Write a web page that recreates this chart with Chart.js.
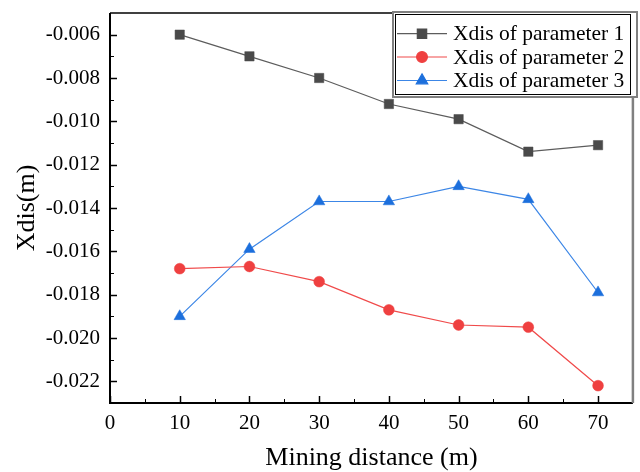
<!DOCTYPE html>
<html>
<head>
<meta charset="utf-8">
<script src="https://cdn.jsdelivr.net/npm/chart.js@4.4.4/dist/chart.umd.min.js"></script>
<style>
  html, body { margin: 0; padding: 0; background: #fff; }
  #wrap { width: 640px; height: 472px; }
</style>
</head>
<body>
<div id="wrap"><canvas id="chart" width="640" height="472"></canvas></div>
<script>
// ─── Data ────────────────────────────────────────────────────────────────────
const MINING_DISTANCE = [10, 20, 30, 40, 50, 60, 70];
const XDIS_P1 = [-0.0060, -0.0070, -0.0080, -0.0092, -0.0099, -0.0114, -0.0111];
const XDIS_P2 = [-0.0168, -0.0167, -0.0174, -0.0187, -0.0194, -0.0195, -0.0222];
const XDIS_P3 = [-0.0190, -0.0159, -0.0137, -0.0137, -0.0130, -0.0136, -0.0179];

const SERIES_LABELS = ['Xdis of parameter 1', 'Xdis of parameter 2', 'Xdis of parameter 3'];
const X_TICKS = [0, 10, 20, 30, 40, 50, 60, 70];
const Y_TICKS = [-0.022, -0.020, -0.018, -0.016, -0.014, -0.012, -0.010, -0.008, -0.006];

const SERIF = "'Liberation Serif', 'Times New Roman', serif";

const toPoints = ys => MINING_DISTANCE.map((x, i) => ({ x, y: ys[i] }));

// ─── Frame + inward ticks ───────────────────────────────────────────────────
const framePlugin = {
    id: 'frame',
    afterDatasetsDraw(chart) {
        const { ctx, chartArea: { left, right, top, bottom } } = chart;
        const xs = chart.scales.x, ys = chart.scales.y;
        ctx.save();
        ctx.strokeStyle = '#000';
        ctx.lineWidth = 1.5;
        // major ticks
        X_TICKS.forEach(v => {
            const px = Math.round(xs.getPixelForValue(v)) + 0.5;
            ctx.beginPath(); ctx.moveTo(px, bottom); ctx.lineTo(px, bottom - 7); ctx.stroke();
        });
        Y_TICKS.forEach(v => {
            const py = Math.round(ys.getPixelForValue(v)) + 0.5;
            ctx.beginPath(); ctx.moveTo(left, py); ctx.lineTo(left + 7, py); ctx.stroke();
        });
        // minor ticks halfway between majors
        ctx.lineWidth = 1;
        for (let i = 0; i < X_TICKS.length; i++) {
            const v = X_TICKS[i] + 5;
            if (v >= xs.max) break;
            const px = Math.round(xs.getPixelForValue(v)) + 0.5;
            ctx.beginPath(); ctx.moveTo(px, bottom); ctx.lineTo(px, bottom - 4); ctx.stroke();
        }
        for (let i = 0; i < Y_TICKS.length; i++) {
            const v = Y_TICKS[i] + 0.001;
            if (v >= ys.max - 1e-9) break;
            const py = Math.round(ys.getPixelForValue(v)) + 0.5;
            ctx.beginPath(); ctx.moveTo(left, py); ctx.lineTo(left + 4, py); ctx.stroke();
        }
        // axis lines
        ctx.lineWidth = 2;
        ctx.beginPath();
        ctx.moveTo(left, top); ctx.lineTo(left, bottom); ctx.lineTo(right, bottom);
        ctx.stroke();
        ctx.lineWidth = 1.5;
        ctx.beginPath(); ctx.moveTo(left, top); ctx.lineTo(right, top); ctx.stroke();
        ctx.strokeStyle = '#808080';
        ctx.lineWidth = 2.5;
        ctx.beginPath(); ctx.moveTo(right, top); ctx.lineTo(right, bottom); ctx.stroke();
        ctx.restore();
    }
};

// ─── Boxed legend with line + marker samples ────────────────────────────────
const legendPlugin = {
    id: 'boxLegend',
    afterDraw(chart) {
        const { ctx } = chart;
        ctx.save();
        ctx.fillStyle = '#fff';
        ctx.fillRect(393, 12, 244, 85);
        ctx.strokeStyle = '#808080';
        ctx.lineWidth = 2;
        ctx.strokeRect(393, 12, 244, 85);
        ctx.strokeStyle = '#000';
        ctx.lineWidth = 1;
        ctx.strokeRect(395.5, 14.5, 235, 80);

        const rows = [33.7, 57, 80.5];
        chart.data.datasets.forEach((ds, i) => {
            const y = rows[i];
            ctx.strokeStyle = ds.borderColor;
            ctx.lineWidth = 1.2;
            ctx.beginPath(); ctx.moveTo(397, y); ctx.lineTo(447, y); ctx.stroke();
            ctx.fillStyle = ds.pointBackgroundColor;
            ctx.strokeStyle = ds.pointBorderColor;
            Chart.helpers.drawPoint(ctx, {
                pointStyle: ds.pointStyle, radius: ds.pointRadius, rotation: 0, borderWidth: ds.pointBorderWidth
            }, 422, y);
            ctx.fillStyle = '#000';
            ctx.font = `21.5px ${SERIF}`;
            ctx.textAlign = 'left';
            ctx.textBaseline = 'middle';
            ctx.fillText(ds.label, 453, y + 1);
        });
        ctx.restore();
    }
};

// ─── Chart ──────────────────────────────────────────────────────────────────
const series = (label, data, line, marker, style, r) => ({
    label,
    data: toPoints(data),
    borderColor: line,
    borderWidth: 1.2,
    pointStyle: style,
    pointRadius: r,
    pointHoverRadius: r,
    pointBackgroundColor: marker,
    pointBorderColor: marker,
    pointBorderWidth: 0.5,
    tension: 0,
    fill: false,
    clip: false,
});

new Chart(document.getElementById('chart'), {
    type: 'line',
    data: {
        datasets: [
            series(SERIES_LABELS[0], XDIS_P1, '#5c5c5c', '#4a4a4a', 'rect', 6.6),
            series(SERIES_LABELS[1], XDIS_P2, '#f04a4a', '#ef4040', 'circle', 5.4),
            series(SERIES_LABELS[2], XDIS_P3, '#3c86e6', '#1c6fdc', 'triangle', 6.6),
        ]
    },
    options: {
        responsive: false,
        animation: false,
        devicePixelRatio: 1,
        layout: { padding: { top: 13, right: 4, left: 0, bottom: 0 } },
        plugins: { legend: { display: false }, tooltip: { enabled: false } },
        scales: {
            x: {
                type: 'linear',
                min: 0,
                max: 75,
                grid: { display: false, drawTicks: false },
                border: { display: false },
                afterBuildTicks: s => { s.ticks = X_TICKS.map(v => ({ value: v })); },
                afterFit: s => { s.height = 69; s.paddingLeft = 0; s.paddingRight = 0; },
                ticks: { color: '#000', padding: 8, maxRotation: 0, font: { family: SERIF, size: 21 } },
                title: {
                    display: true, text: 'Mining distance (m)', color: '#000',
                    padding: { top: 0, bottom: -2 }, font: { family: SERIF, size: 26 }
                }
            },
            y: {
                type: 'linear',
                min: -0.023,
                max: -0.005,
                grid: { display: false, drawTicks: false },
                border: { display: false },
                afterBuildTicks: s => { s.ticks = Y_TICKS.map(v => ({ value: v })); },
                afterFit: s => { s.width = 110; s.paddingTop = 0; s.paddingBottom = 0; },
                ticks: {
                    color: '#000', padding: 10, font: { family: SERIF, size: 21 },
                    callback: v => v.toFixed(3)
                },
                title: {
                    display: true, text: 'Xdis(m)', color: '#000',
                    padding: { top: 12, bottom: 0 }, font: { family: SERIF, size: 26 }
                }
            }
        }
    },
    plugins: [framePlugin, legendPlugin]
});
</script>
</body>
</html>
